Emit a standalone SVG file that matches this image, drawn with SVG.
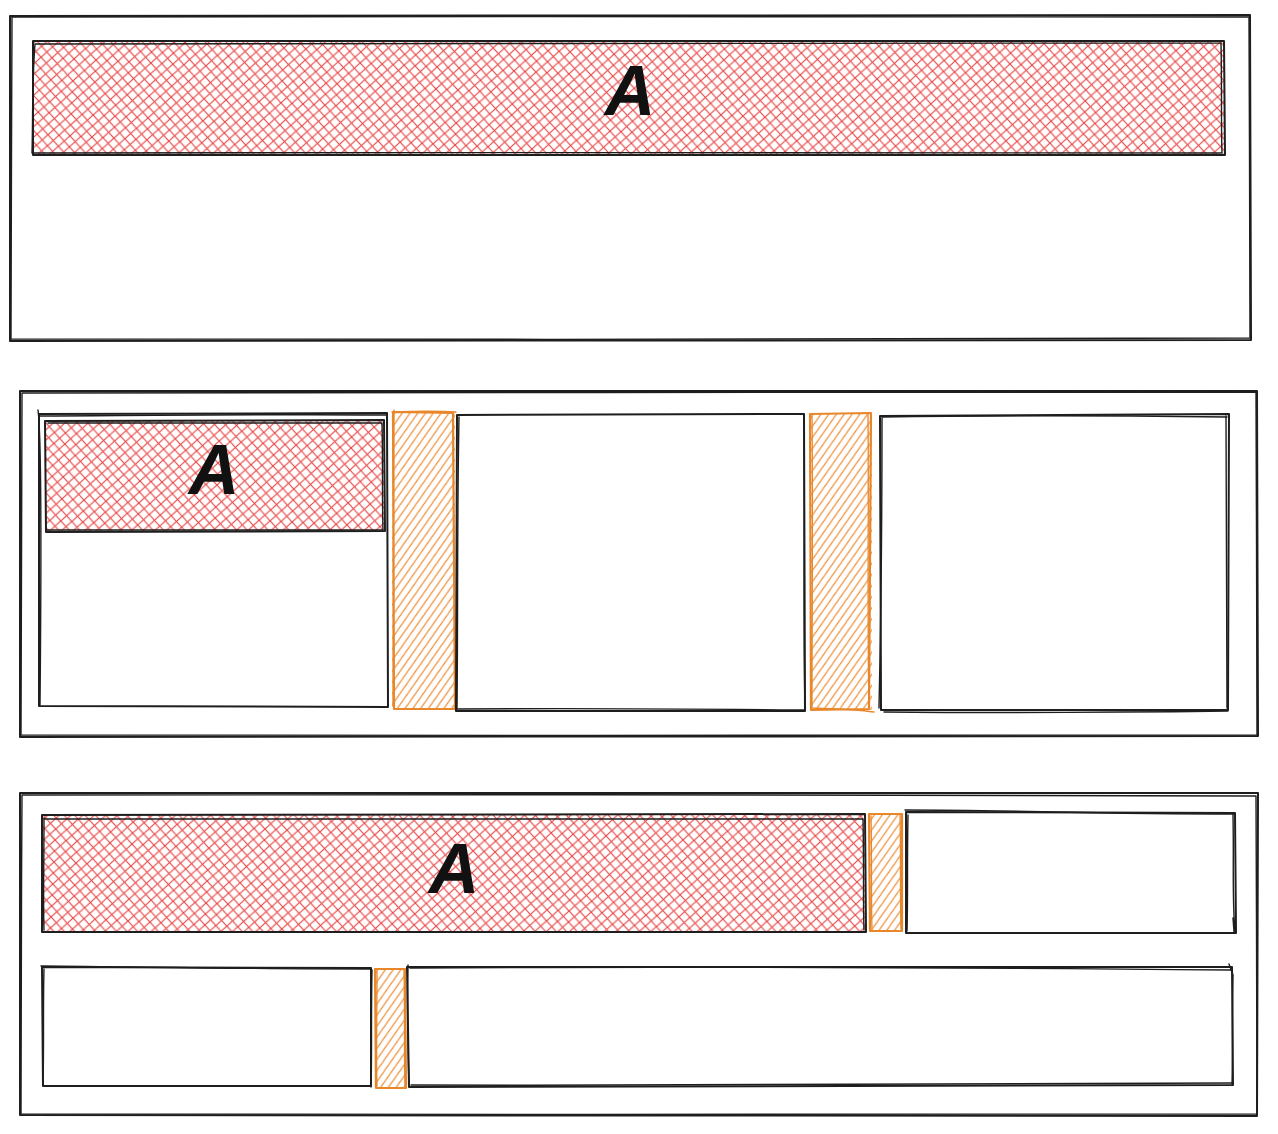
<svg xmlns="http://www.w3.org/2000/svg" width="1278" height="1134" viewBox="0 0 1278 1134">
<style>
.bk{fill:none;stroke:#1e1e1e;stroke-width:2;stroke-linecap:round;stroke-linejoin:round}
.bk2{fill:none;stroke:#1e1e1e;stroke-width:1.4;stroke-linecap:round;stroke-linejoin:round}
.or{fill:none;stroke:#e8872a;stroke-width:2.2;stroke-linecap:round;stroke-linejoin:round}
.or2{fill:none;stroke:#e8872a;stroke-width:1.3;stroke-linecap:round;stroke-linejoin:round}
.lbl{font-family:"Liberation Sans",Arial,sans-serif;font-style:italic;font-weight:bold;font-size:70px;fill:#111111;text-anchor:middle}
</style>
<defs>
<pattern id="redHatch" patternUnits="userSpaceOnUse" width="11" height="11" patternTransform="rotate(3)">
<path d="M-3,14 L14,-3 M-3,3 L3,-3 M8,14 L14,8" stroke="#e84848" stroke-width="1.2" fill="none"/>
<path d="M-3,-3 L14,14 M-3,8 L3,14 M8,-3 L14,3" stroke="#e84848" stroke-width="1.2" fill="none"/>
</pattern>
<pattern id="orHatch" patternUnits="userSpaceOnUse" width="9" height="9" patternTransform="rotate(-10)">
<path d="M-3,12 L12,-3 M-3,3 L3,-3 M6,12 L12,6" stroke="#eb8528" stroke-width="1.2" fill="none"/>
</pattern>
</defs>
<rect width="1278" height="1134" fill="#ffffff"/>

<!-- Panel 1 -->
<g id="panel1">
<path class="bk" d="M10,16 L1250,15 L1251,340 L10,341 Z"/>
<path class="bk2" d="M12,17 C400,16 900,17 1249,17 M1249,17 C1250,120 1249,250 1250,338 M1250,338 C900,339 400,340 11,339 M11,339 C12,250 11,120 12,17"/>
</g>
<g id="p1-nodeA">
<rect x="33" y="41" width="1191" height="114" fill="url(#redHatch)"/>
<path class="bk" d="M33,41 L1224,41 L1225,155 L33,155 Z"/>
<path class="bk2" d="M35,44 C400,43 900,44 1221,43 M1221,43 C1222,90 1221,130 1222,153 M1222,153 C900,153 400,152 32,153 M32,153 C33,120 32,80 35,44"/>
<text class="lbl" x="630" y="115">A</text>
</g>

<!-- Panel 2 -->
<g id="panel2">
<path class="bk" d="M20,391 L1257,391 L1258,736 L20,737 Z"/>
<path class="bk2" d="M22,393 C400,392 900,393 1256,392 M1256,392 C1257,500 1256,650 1257,735 M1257,735 C900,735 400,736 21,735 M21,735 C22,600 21,480 22,393"/>
</g>
<g id="p2-left">
<path class="bk" d="M39,414 L387,413 L388,707 L39,706 Z"/>
<path class="bk2" d="M38,410 C42,440 41,600 40,705 M40,416 C200,415 300,414 386,415"/>
</g>
<g id="p2-nodeA">
<rect x="45" y="420" width="340" height="112" fill="url(#redHatch)"/>
<path class="bk" d="M45,421 L384,420 L385,531 L46,532 Z"/>
<path class="bk2" d="M48,423 C200,422 300,422 382,423 M382,423 C383,470 382,500 383,530 M383,530 C300,530 200,529 47,530"/>
<text class="lbl" x="214" y="494">A</text>
</g>
<g id="p2-gap1">
<rect x="392" y="412" width="63" height="297" fill="url(#orHatch)"/>
<path class="or" d="M393,412 L453,413 L455,709 L394,709 Z"/>
<path class="or2" d="M394,410 C394,500 393,620 393,706 M392,412 C420,411 440,411 456,412"/>
</g>
<g id="p2-mid">
<path class="bk" d="M457,415 L804,414 L805,711 L456,711 Z"/>
<path class="bk2" d="M459,417 C457,520 458,620 457,709 M804,416 C805,520 803,620 805,709 M458,709 C600,708 700,709 804,710"/>
</g>
<g id="p2-gap2">
<rect x="810" y="414" width="62" height="296" fill="url(#orHatch)"/>
<path class="or" d="M810,414 L871,413 L869,709 L811,710 Z"/>
<path class="or2" d="M812,416 C813,520 812,620 812,707 M868,415 C869,520 867,620 869,705 M812,708 C840,709 860,710 874,712"/>
</g>
<g id="p2-right">
<path class="bk" d="M880,416 L1229,414 L1228,710 L881,710 Z"/>
<path class="bk2" d="M882,418 C882,520 881,620 879,708 M882,417 C1000,415 1150,416 1227,417 M1226,416 C1227,520 1227,620 1227,708 M884,712 C1000,713 1150,712 1228,711"/>
</g>

<!-- Panel 3 -->
<g id="panel3">
<path class="bk" d="M20,793 L1258,793 L1257,1116 L20,1115 Z"/>
<path class="bk2" d="M22,795 C400,794 900,795 1256,796 M1256,796 C1257,900 1256,1020 1257,1114 M1257,1114 C900,1114 400,1115 21,1114 M21,1114 C22,1000 21,900 22,795"/>
</g>
<g id="p3-nodeA">
<rect x="42" y="815" width="824" height="118" fill="url(#redHatch)"/>
<path class="bk" d="M42,815 L865,814 L866,932 L42,932 Z"/>
<path class="bk2" d="M44,819 C400,818 700,818 863,819 M863,819 C864,870 863,900 864,930 M44,818 C44,870 43,900 44,930"/>
<text class="lbl" x="454" y="893">A</text>
</g>
<g id="p3-gap1">
<rect x="869" y="814" width="33" height="117" fill="url(#orHatch)"/>
<path class="or" d="M869,814 L902,814 L902,931 L870,931 Z"/>
<path class="or2" d="M871,816 C872,860 871,900 872,929 M900,815 C901,860 900,900 901,929"/>
</g>
<g id="p3-topright">
<path class="bk" d="M906,812 L1235,813 L1236,933 L906,933 Z"/>
<path class="bk2" d="M905,810 C1000,810 1100,814 1234,814 M908,815 C907,860 908,900 907,931 M1233,815 C1234,860 1232,900 1235,931 M1233,918 L1234,932"/>
</g>
<g id="p3-botleft">
<path class="bk" d="M42,967 L371,968 L371,1086 L43,1086 Z"/>
<path class="bk2" d="M41,966 C150,967 250,969 370,969 M44,969 C43,1000 44,1050 43,1084 M372,970 C371,1020 372,1060 371,1087"/>
</g>
<g id="p3-gap2">
<rect x="375" y="968" width="31" height="120" fill="url(#orHatch)"/>
<path class="or" d="M375,969 L405,969 L406,1088 L376,1088 Z"/>
<path class="or2" d="M377,971 C377,1020 376,1060 377,1086 M404,970 C405,1020 404,1060 405,1086"/>
</g>
<g id="p3-botright">
<path class="bk" d="M407,967 L1232,967 L1233,1085 L409,1087 Z"/>
<path class="bk2" d="M408,965 C407,1010 408,1050 409,1086 M410,968 C700,966 1000,968 1231,970 M1229,964 L1233,975 C1232,1020 1233,1060 1232,1084 M411,1085 C700,1086 1000,1085 1231,1083"/>
</g>
<g id="connectors"/>
</svg>
